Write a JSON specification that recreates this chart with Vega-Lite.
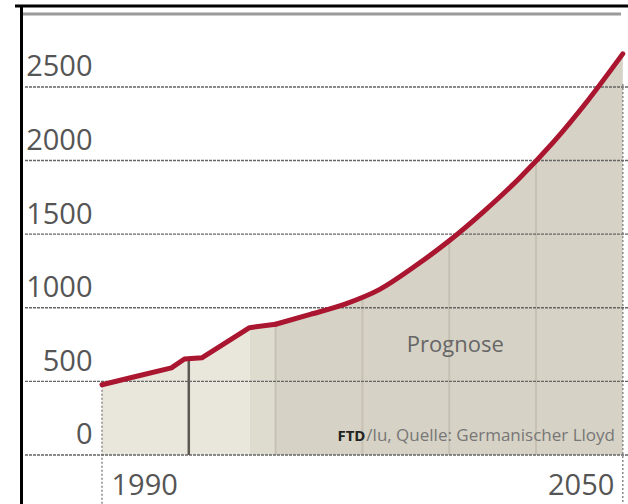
{
  "$schema": "https://vega.github.io/schema/vega-lite/v6.json",
  "width": 607,
  "height": 498,
  "autosize": {"type": "none"},
  "padding": {"left": 21, "top": 6, "right": 0, "bottom": 0},
  "background": "white",
  "config": {"view": {"stroke": null}, "font": "Open Sans"},
  "datasets": {
    "series": [
      {"year": 1990, "value": 477},
      {"year": 1994, "value": 535},
      {"year": 1998, "value": 592},
      {"year": 1999.5, "value": 652},
      {"year": 2001.5, "value": 660},
      {"year": 2007, "value": 865},
      {"year": 2010, "value": 888},
      {"year": 2014, "value": 955},
      {"year": 2018, "value": 1025},
      {"year": 2022, "value": 1125},
      {"year": 2026, "value": 1280},
      {"year": 2030, "value": 1455},
      {"year": 2034, "value": 1655},
      {"year": 2038, "value": 1875},
      {"year": 2042, "value": 2125},
      {"year": 2046, "value": 2410},
      {"year": 2050, "value": 2725}
    ],
    "vlines": [
      {"year": 2010, "value": 885},
      {"year": 2020, "value": 1070},
      {"year": 2030, "value": 1450},
      {"year": 2040, "value": 1995}
    ],
    "marker": [{"year": 2000, "value": 655}],
    "edges": [{"year": 1990, "value": 470}, {"year": 2050, "value": 2520}],
    "grid": [{"value": 0}, {"value": 500}, {"value": 1000}, {"value": 1500}, {"value": 2000}, {"value": 2500}],
    "notes": [{"year": 2030.7, "value": 747, "text": "Prognose"}],
    "source": [{"year": 2049.1, "value": 95, "text": "/lu, Quelle: Germanischer Lloyd"}],
    "brand": [{"year": 2020.35, "value": 95, "text": "FTD"}]
  },
  "encoding": {
    "x": {
      "field": "year",
      "type": "quantitative",
      "scale": {"domain": [1980.67, 2050.6], "nice": false, "zero": false},
      "axis": {
        "orient": "bottom",
        "values": [1990, 2050],
        "format": "d",
        "domain": false,
        "ticks": false,
        "tickSize": 0,
        "grid": false,
        "title": null,
        "labelFont": "Open Sans",
        "labelFontSize": 29,
        "labelColor": "#555555",
        "labelPadding": -10,
        "labelBaseline": "alphabetic",
        "labelAlign": {"condition": {"test": "datum.value <= 1990", "value": "left"}, "value": "right"},
        "labelOffset": {"condition": {"test": "datum.value <= 1990", "value": 9}, "value": -9},
        "labelOverlap": false,
        "zindex": 1
      }
    },
    "y": {
      "field": "value",
      "type": "quantitative",
      "scale": {"domain": [-333, 3050], "nice": false, "zero": false},
      "axis": {
        "orient": "left",
        "values": [0, 500, 1000, 1500, 2000, 2500],
        "format": "d",
        "domain": true,
        "domainColor": "#000000",
        "domainWidth": 3,
        "ticks": false,
        "tickSize": 0,
        "grid": false,
        "title": null,
        "labelFont": "Open Sans",
        "labelFontSize": 29,
        "labelColor": "#555555",
        "labelAlign": "right",
        "labelBaseline": "alphabetic",
        "labelPadding": -71,
        "labelOffset": -11,
        "labelOverlap": false,
        "zindex": 1
      }
    }
  },
  "layer": [
    {
      "data": {"name": "series"},
      "transform": [{"filter": "datum.year >= 2010"}],
      "mark": {"type": "area", "color": "#d6d2c5", "interpolate": "monotone"},
      "encoding": {"y2": {"datum": 0}}
    },
    {
      "data": {"name": "series"},
      "transform": [{"filter": "datum.year <= 2007"}],
      "mark": {"type": "area", "color": "#e9e7dc"},
      "encoding": {"y2": {"datum": 0}}
    },
    {
      "data": {"name": "series"},
      "transform": [{"filter": "datum.year >= 2007 && datum.year <= 2010"}],
      "mark": {"type": "area", "color": "#dedbcf"},
      "encoding": {"y2": {"datum": 0}}
    },
    {
      "data": {"name": "vlines"},
      "mark": {"type": "rule", "color": "#c6c1b3", "strokeWidth": 2},
      "encoding": {"y2": {"datum": 0}}
    },
    {
      "data": {"name": "marker"},
      "mark": {"type": "rule", "color": "#5a5a52", "strokeWidth": 2.5},
      "encoding": {"y2": {"datum": 0}}
    },
    {
      "data": {"name": "edges"},
      "mark": {"type": "rule", "color": "#8a8a8a", "strokeWidth": 1.5, "strokeDash": [2, 2]},
      "encoding": {"y2": {"datum": -333}}
    },
    {
      "data": {"name": "grid"},
      "mark": {"type": "rule", "color": "#666666", "strokeWidth": 1.4, "strokeDash": [3, 1]},
      "encoding": {"x": {"value": 4}, "x2": {"value": 607}}
    },
    {
      "data": {"name": "series"},
      "transform": [{"filter": "datum.year <= 2010"}],
      "mark": {"type": "line", "color": "#aa1530", "strokeWidth": 5, "strokeJoin": "round", "strokeCap": "round"},
      "encoding": {}
    },
    {
      "data": {"name": "series"},
      "transform": [{"filter": "datum.year >= 2010"}],
      "mark": {"type": "line", "color": "#aa1530", "strokeWidth": 5, "strokeJoin": "round", "strokeCap": "round", "interpolate": "monotone"},
      "encoding": {}
    },
    {
      "data": {"name": "notes"},
      "mark": {"type": "text", "fontSize": 22, "color": "#666666", "align": "center", "baseline": "middle"},
      "encoding": {"text": {"field": "text"}}
    },
    {
      "data": {"name": "source"},
      "mark": {"type": "text", "fontSize": 17, "color": "#777777", "align": "right", "baseline": "alphabetic"},
      "encoding": {"text": {"field": "text"}}
    },
    {
      "data": {"name": "brand"},
      "mark": {"type": "text", "fontSize": 15, "fontWeight": "bold", "color": "#222222", "align": "right", "baseline": "alphabetic"},
      "encoding": {"text": {"field": "text"}}
    },
    {
      "data": {"values": [{"value": 3050}]},
      "mark": {"type": "rule", "color": "#000000", "strokeWidth": 3},
      "encoding": {"x": {"value": -6}, "x2": {"value": 607}}
    },
    {
      "data": {"values": [{"value": 2996}]},
      "mark": {"type": "rule", "color": "#9a9a9a", "strokeWidth": 3},
      "encoding": {"x": {"value": 2}, "x2": {"value": 600}}
    }
  ]
}
